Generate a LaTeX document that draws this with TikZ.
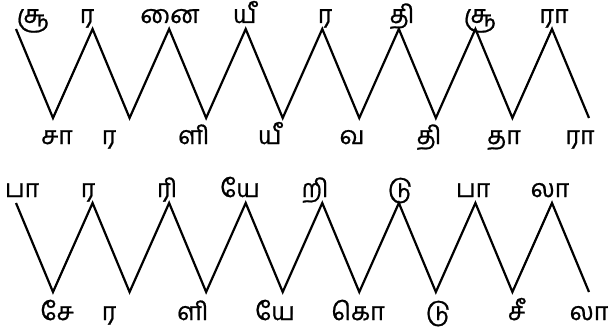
\documentclass[tikz,border=0pt]{standalone}
\usepackage{fontspec}
\newfontfamily\tamilfont[Script=Tamil,FakeBold=0.8]{Hind Madurai}
\tikzset{
  syllable/.style={font=\tamilfont\fontsize{25}{28}\selectfont, anchor=base, inner sep=0pt},
  zigzag/.style={line width=2.2pt}
}
\begin{document}
\begin{tikzpicture}[x=1pt,y=-1pt]
    \useasboundingbox (0,0) rectangle (609,331);

    % Upper zigzag (vertices)
    \foreach \i in {0,...,7} {
        \coordinate (ut\i) at ({16+76.57*\i},29);
        \coordinate (ub\i) at ({53+76.57*\i},118);
    }
    \draw[zigzag] (ut0) \foreach \i [count=\j] in {0,...,6} { -- (ub\i) -- (ut\j) } -- (ub7);

    % Lower zigzag (vertices)
    \foreach \i in {0,...,7} {
        \coordinate (lt\i) at ({16+76.57*\i},203);
        \coordinate (lb\i) at ({53+76.57*\i},292);
    }
    \draw[zigzag] (lt0) \foreach \i [count=\j] in {0,...,6} { -- (lb\i) -- (lt\j) } -- (lb7);

    % Upper syllables
    \foreach \x/\s [count=\k] in {33/சூ, 87/ர, 170/னை, 245/யீ, 325/ர, 402/தி, 480/சூ, 554/ரா}
        \node[syllable] (uu\k) at (\x,23) {\s};
    \foreach \x/\s [count=\k] in {57/சா, 109/ர, 194/ளி, 270/யீ, 352/வ, 429/தி, 504/தா, 580/ரா}
        \node[syllable] (ud\k) at (\x,144) {\s};

    % Lower syllables
    \foreach \x/\s [count=\k] in {22/பா, 88/ர, 167/ரி, 240/யே, 315/றி, 400/டு, 473/பா, 550/லா}
        \node[syllable] (lu\k) at (\x,197) {\s};
    \foreach \x/\s [count=\k] in {57/சே, 109/ர, 193/ளி, 275/யே, 358/கொ, 438/டு, 517/சீ, 589/லா}
        \node[syllable] (ld\k) at (\x,320) {\s};
\end{tikzpicture}
\end{document}
